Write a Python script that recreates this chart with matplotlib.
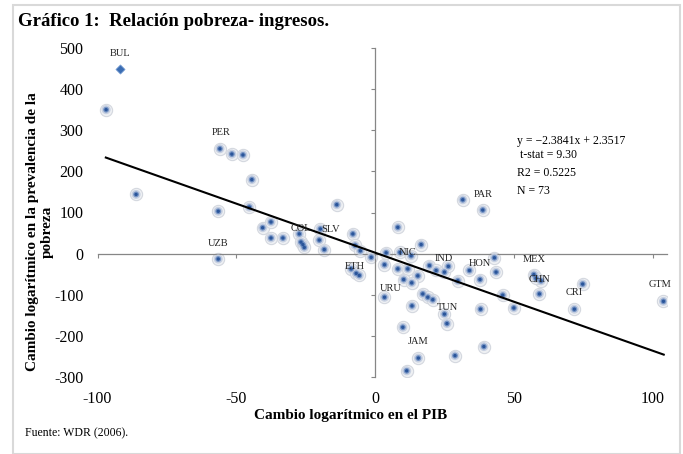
import numpy as np
import matplotlib
matplotlib.use("Agg")
import matplotlib.pyplot as plt
from matplotlib.patches import Rectangle

plt.rcParams['font.family'] = ['Liberation Serif', 'DejaVu Serif']
plt.rcParams['axes.unicode_minus'] = False

# change in log GDP (x) vs change in log poverty headcount (y)
gdp_change = [-96.9, -86.1, -55.9, -51.6, -47.6, -44.4, -56.5, -45.3, -13.8, -40.5,
              -37.5, -37.5, -33.2, -27.3, -26.7, -26.0, -25.5, -19.7, -20.1, -18.3,
              -8.0, -7.2, -5.3, -1.4, -56.5, -8.6, -6.8, -5.7, 31.6, 38.8,
              8.2, 16.6, 4.0, 9.0, 13.0, 3.4, 8.2, 11.8, 15.4, 10.3,
              13.2, 19.6, 22.0, 25.0, 26.4, 29.8, 34.0, 37.8, 43.0, 43.6,
              46.0, 3.4, 17.2, 19.0, 20.8, 13.3, 25.0, 25.9, 10.0, 38.0,
              50.0, 15.6, 28.8, 39.2, 11.4, 57.2, 59.8, 58.0, 59.2, 74.8,
              71.8, 103.9]
pov_change = [350, 144, 255, 242, 240, 180, 103, 113, 119, 63,
              77, 38, 38, 48, 28, 22, 15, 60, 33, 10,
              48, 20, 7, -9, -13, -37, -48, -53, 131, 106,
              64, 22, 2, 3, -5, -27, -37, -37, -54, -63,
              -71, -29, -41, -45, -31, -66, -41, -63, -10, -45,
              -101, -106, -98, -106, -112, -127, -147, -170, -179, -135,
              -132, -254, -248, -226, -285, -51, -66, -60, -98, -74,
              -135, -116]

bul_x, bul_y = -91.9, 450

labels = ['BUL', 'PER', 'UZB', 'COL', 'SLV', 'ETH', 'NIC', 'IND', 'HON', 'URU',
          'TUN', 'JAM', 'MEX', 'CHN', 'CRI', 'GTM', 'PAR']
label_x = [-92, -55.5, -56.6, -26.7, -15.9, -7.4, 11.8, 24.7, 37.6, 5.8,
           26.2, 15.6, 57.2, 59.2, 71.8, 102.7, 38.8]
label_y = [486, 294, 24, 62, 58, -31, 3, -13, -25, -84,
           -132, -214, -15, -62, -94, -75, 144]

slope, intercept = -2.3841, 2.3517
fit_range = [-97, 104]

fig = plt.figure(figsize=(6.83, 4.54), dpi=100)
fig.patches.append(Rectangle((13 / 683, 0), 667 / 683, 1 - 5 / 454, transform=fig.transFigure,
                             fill=False, edgecolor='#d9d9d9', linewidth=1.5))
ax = fig.add_axes([97.5 / 683, 1 - 377 / 454, 569 / 683, 329 / 454])

# glow-style markers
ax.scatter(gdp_change, pov_change, s=78, color='#eef0f3', edgecolors='#d4d8df', linewidths=0.8, zorder=2)
ax.scatter(gdp_change, pov_change, s=42, color='#c3cde0', edgecolors='none', alpha=0.9, zorder=3)
ax.scatter(gdp_change, pov_change, s=18, color='#6f8fc2', edgecolors='none', alpha=0.9, zorder=3)
ax.scatter(gdp_change, pov_change, s=6, color='#2a559a', edgecolors='none', zorder=4)
ax.scatter([bul_x], [bul_y], s=22, marker='D', color='#3b6db3', edgecolors='#7ea3d6', linewidths=0.5, zorder=4)

xf = np.array(fit_range, dtype=float)
ax.plot(xf, slope * xf + intercept, color='black', linewidth=1.5, zorder=5)

for lab, lx, ly in zip(labels, label_x, label_y):
    ax.text(lx, ly, lab, fontsize=7.5, ha='center', va='center', color='#222222', zorder=6)

ax.text(51.3, 275, 'y = \u22122.3841x + 2.3517', fontsize=8.5, va='center')
ax.text(51.3, 240, ' t-stat = 9.30', fontsize=8.5, va='center')
ax.text(51.3, 196, 'R2 = 0.5225', fontsize=8.5, va='center')
ax.text(51.3, 152, 'N = 73', fontsize=8.5, va='center')

ax.set_xlim(-100, 105)
ax.set_ylim(-300, 500)
ax.set_xticks([-100, -50, 0, 50, 100])
ax.set_yticks(range(-300, 501, 100))

ax.spines['left'].set_position(('data', 0))
ax.spines['bottom'].set_position(('data', 0))
ax.spines['right'].set_visible(False)
ax.spines['top'].set_visible(False)
for sp in ['left', 'bottom']:
    ax.spines[sp].set_color('#868686')
    ax.spines[sp].set_linewidth(0.9)

ax.tick_params(axis='y', direction='out', length=3, color='#868686', pad=207, labelsize=11.5)
ax.tick_params(axis='x', direction='out', length=3, color='#868686', pad=96, labelsize=11.5)

fig.text(351 / 683, 1 - 415 / 454, 'Cambio logarítmico en el PIB', ha='center', va='center',
         fontsize=11, fontweight='bold')
fig.text(40 / 683, 1 - 232 / 454, 'Cambio logarítmico en la prevalencia de la\npobreza',
         ha='center', va='center', rotation=90, fontsize=11, fontweight='bold', linespacing=1.1)
fig.text(18 / 683, 1 - 22 / 454, 'Gráfico 1:  Relación pobreza- ingresos.', ha='left', va='center',
         fontsize=13.5, fontweight='bold')
fig.text(25 / 683, 1 - 433 / 454, 'Fuente: WDR (2006).', ha='left', va='center', fontsize=8.5)

fig.savefig('out.png', dpi=100)
